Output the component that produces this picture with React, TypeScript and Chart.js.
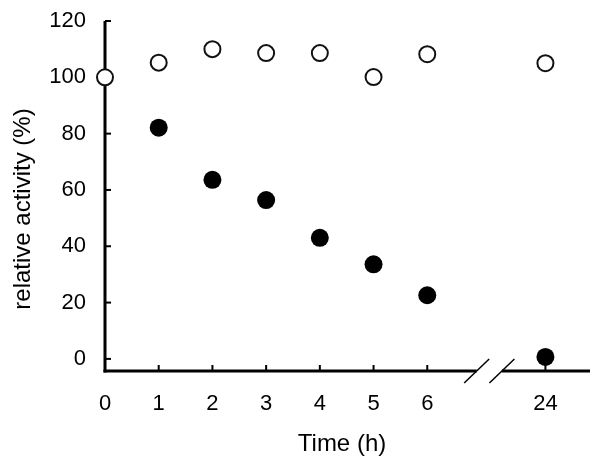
import React, { useEffect, useRef } from "react";
import { Chart, registerables } from "chart.js";

Chart.register(...registerables);

// Category positions on the (broken) x axis and their tick labels
const xPositions = [0, 1, 2, 3, 4, 5, 6, 8.2];
const xLabels = ["0", "1", "2", "3", "4", "5", "6", "24"];
const yTicks = [0, 20, 40, 60, 80, 100, 120];

// Series values (relative activity, %)
const openSeries = [100, 105.2, 110, 108.6, 108.6, 100.1, 108.2, 105.0];
const filledSeries = [null, 82.1, 63.6, 56.4, 43.0, 33.6, 22.6, 0.7];

const xTitle = "Time (h)";
const yTitle = "relative activity (%)";

const BREAK_START = 6.92;
const BREAK_END = 7.39;
const FONT = "'Liberation Sans', Arial, Helvetica, sans-serif";

const axesPlugin = {
  id: "customAxes",
  beforeDatasetsDraw(chart: any) {
    const { ctx, chartArea } = chart;
    const xs = chart.scales.x;
    const ys = chart.scales.y;
    const bottom = chartArea.bottom;
    const left = chartArea.left;
    ctx.save();
    ctx.strokeStyle = "#000";
    ctx.lineCap = "butt";
    // y axis
    ctx.lineWidth = 3;
    ctx.beginPath();
    ctx.moveTo(left, chartArea.top);
    ctx.lineTo(left, bottom + 1.5);
    ctx.stroke();
    // x axis with break
    const bx1 = xs.getPixelForValue(BREAK_START);
    const bx2 = xs.getPixelForValue(BREAK_END);
    ctx.beginPath();
    ctx.moveTo(left - 1.5, bottom);
    ctx.lineTo(bx1, bottom);
    ctx.moveTo(bx2, bottom);
    ctx.lineTo(chartArea.right, bottom);
    ctx.stroke();
    // break slashes
    ctx.lineWidth = 1.5;
    [bx1, bx2].forEach((bx) => {
      ctx.beginPath();
      ctx.moveTo(bx - 12.5, bottom + 12);
      ctx.lineTo(bx + 12.5, bottom - 12);
      ctx.stroke();
    });
    // inward ticks
    ctx.lineWidth = 2;
    yTicks.forEach((v) => {
      const py = ys.getPixelForValue(v);
      ctx.beginPath();
      ctx.moveTo(left, py);
      ctx.lineTo(left + 6, py);
      ctx.stroke();
    });
    xPositions.forEach((v, i) => {
      if (i === 0) return;
      const px = xs.getPixelForValue(v);
      ctx.beginPath();
      ctx.moveTo(px, bottom);
      ctx.lineTo(px, bottom - 6);
      ctx.stroke();
    });
    // axis titles
    ctx.fillStyle = "#000";
    ctx.font = `24px ${FONT}`;
    ctx.textAlign = "center";
    ctx.textBaseline = "middle";
    ctx.fillText(xTitle, 342, 444);
    ctx.translate(23, 209);
    ctx.rotate(-Math.PI / 2);
    ctx.fillText(yTitle, 0, 0);
    ctx.restore();
  },
};

export default function App() {
  const ref = useRef<HTMLCanvasElement>(null);
  useEffect(() => {
    document.body.style.margin = "0";
    const canvas = ref.current!;
    const chart = new Chart(canvas, {
      type: "scatter",
      data: {
        datasets: [
          {
            label: "open",
            data: xPositions.map((x, i) => ({ x, y: openSeries[i] })),
            pointStyle: "circle",
            pointRadius: 8,
            pointBorderWidth: 2,
            pointBackgroundColor: "#fff",
            pointBorderColor: "#111",
            clip: false as any,
          },
          {
            label: "filled",
            data: xPositions
              .map((x, i) => ({ x, y: filledSeries[i] }))
              .filter((p) => p.y !== null) as any,
            pointStyle: "circle",
            pointRadius: 9,
            pointBorderWidth: 0,
            pointBackgroundColor: "#000",
            pointBorderColor: "#000",
            clip: false as any,
          },
        ],
      },
      options: {
        responsive: false,
        animation: false,
        layout: { padding: { top: 21, right: 9, left: 0, bottom: 0 } },
        plugins: {
          legend: { display: false },
          tooltip: { enabled: false },
        },
        scales: {
          x: {
            type: "linear",
            min: 0,
            max: 9.03,
            grid: { display: false, drawTicks: false },
            border: { display: false },
            afterBuildTicks: (scale: any) => {
              scale.ticks = xPositions.map((v) => ({ value: v }));
            },
            afterFit: (scale: any) => {
              scale.height = 100;
              scale.paddingLeft = 0;
              scale.paddingRight = 0;
            },
            ticks: {
              autoSkip: false,
              maxRotation: 0,
              padding: 20,
              color: "#000",
              font: { family: FONT, size: 22 },
              callback: (v: any) => {
                const i = xPositions.indexOf(Number(v));
                return i >= 0 ? xLabels[i] : "";
              },
            },
          },
          y: {
            type: "linear",
            min: -4.3,
            max: 120,
            grid: { display: false, drawTicks: false },
            border: { display: false },
            afterBuildTicks: (scale: any) => {
              scale.ticks = yTicks.map((v) => ({ value: v }));
            },
            afterFit: (scale: any) => {
              scale.width = 105;
              scale.paddingTop = 0;
              scale.paddingBottom = 0;
            },
            ticks: {
              padding: 19,
              color: "#000",
              font: { family: FONT, size: 22 },
            },
          },
        },
      },
      plugins: [axesPlugin],
    });
    return () => chart.destroy();
  }, []);
  return (
    <div style={{ width: 600, height: 471, background: "#fff" }}>
      <canvas ref={ref} width={600} height={471} style={{ display: "block" }} />
    </div>
  );
}
